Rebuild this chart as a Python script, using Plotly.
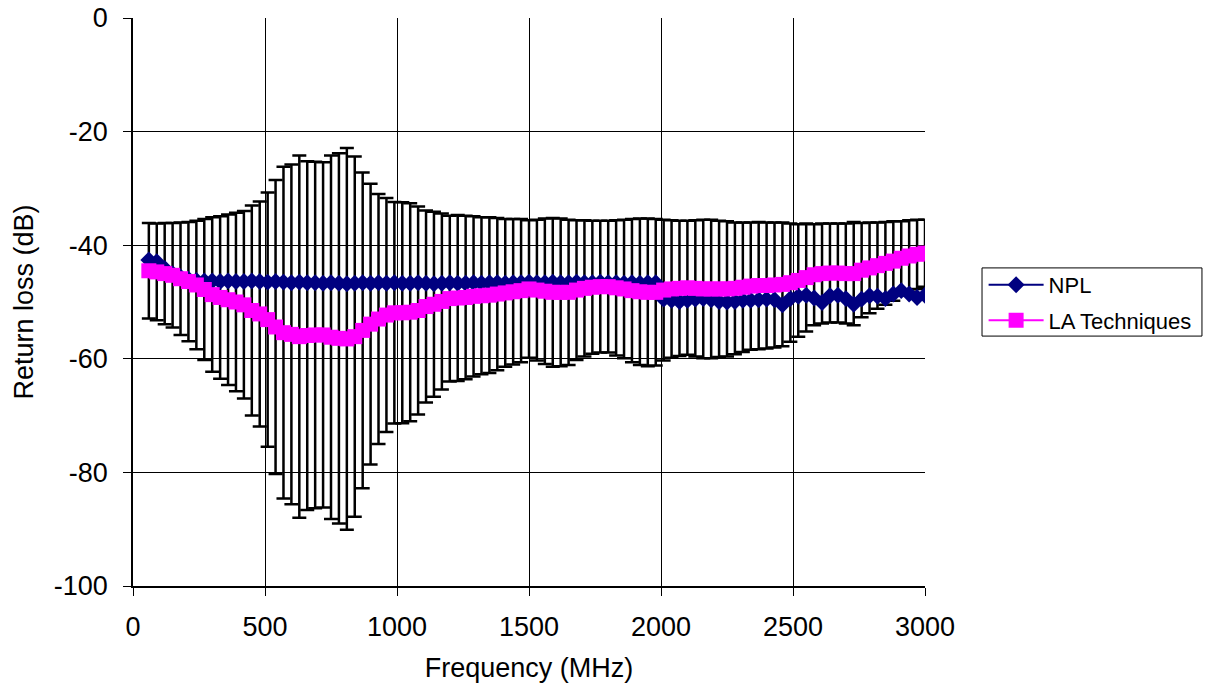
import plotly.graph_objects as go

# Measurement frequencies (MHz)
freq_mhz = [
    60, 90, 120, 150, 180, 210, 240, 270, 300, 330,
    360, 390, 420, 450, 480, 510, 540, 570, 600, 630,
    660, 690, 720, 750, 780, 810, 840, 870, 900, 930,
    960, 990, 1020, 1050, 1080, 1110, 1140, 1170, 1200, 1230,
    1260, 1290, 1320, 1350, 1380, 1410, 1440, 1470, 1500, 1530,
    1560, 1590, 1620, 1650, 1680, 1710, 1740, 1770, 1800, 1830,
    1860, 1890, 1920, 1950, 1980, 2010, 2040, 2070, 2100, 2130,
    2160, 2190, 2220, 2250, 2280, 2310, 2340, 2370, 2400, 2430,
    2460, 2490, 2520, 2550, 2580, 2610, 2640, 2670, 2700, 2730,
    2760, 2790, 2820, 2850, 2880, 2910, 2940, 2970, 3000,
]

# NPL return loss (dB)
npl_db = [
    -42.6, -42.9, -44.1, -45.0, -45.6, -46.0, -46.2, -46.3, -46.3, -46.4,
    -46.3, -46.4, -46.4, -46.3, -46.4, -46.5, -46.4, -46.5, -46.6, -46.5,
    -46.6, -46.6, -46.7, -46.6, -46.7, -46.8, -46.7, -46.6, -46.7, -46.6,
    -46.7, -46.6, -46.7, -46.7, -46.6, -46.7, -46.8, -46.7, -46.6, -46.7,
    -46.7, -46.6, -46.7, -46.6, -46.6, -46.7, -46.6, -46.6, -46.5, -46.6,
    -46.6, -46.5, -46.6, -46.6, -46.5, -46.6, -46.6, -46.5, -46.6, -46.6,
    -46.7, -46.6, -46.7, -46.6, -46.6, -49.5, -49.7, -49.9, -49.7, -49.5,
    -49.4, -49.6, -49.9, -50.0, -49.9, -49.7, -49.7, -49.6, -49.5, -49.6,
    -50.5, -49.4, -49.0, -48.8, -49.3, -50.1, -48.9, -48.8, -49.4, -50.4,
    -49.5, -48.9, -49.0, -49.4, -48.6, -48.0, -48.6, -49.2, -48.8,
]

# LA Techniques return loss (dB)
la_db = [
    -44.5, -44.7, -45.0, -45.3, -45.9, -46.4, -47.0, -47.8, -48.7, -49.2,
    -49.6, -50.0, -50.5, -51.5, -52.1, -53.1, -54.4, -55.4, -55.7, -56.1,
    -55.9, -55.8, -55.8, -56.2, -56.4, -56.5, -56.1, -55.0, -53.9, -53.0,
    -52.3, -51.9, -51.9, -51.8, -51.5, -50.8, -50.4, -49.9, -49.4, -49.3,
    -49.2, -49.0, -48.9, -48.8, -48.6, -48.4, -48.2, -48.0, -47.7, -47.9,
    -48.1, -48.3, -48.3, -48.3, -47.9, -47.6, -47.4, -47.3, -47.3, -47.5,
    -47.7, -48.0, -48.2, -48.3, -48.3, -47.9, -47.7, -47.6, -47.5, -47.6,
    -47.7, -47.7, -47.7, -47.7, -47.6, -47.4, -47.2, -47.1, -47.1, -47.0,
    -46.9, -46.6, -46.2, -45.7, -45.2, -45.0, -44.9, -44.9, -45.0, -45.0,
    -44.4, -44.0, -43.6, -43.2, -42.8, -42.3, -41.9, -41.6, -41.4,
]

# Uncertainty of the LA Techniques values (+/- dB)
la_unc_db = [
    8.4, 8.5, 8.9, 9.2, 9.9, 10.5, 11.3, 12.4, 13.6, 14.3,
    15.0, 15.7, 16.5, 18.5, 19.8, 22.4, 25.9, 29.2, 29.9, 31.9,
    30.7, 30.5, 30.4, 32.0, 32.6, 33.6, 31.7, 27.8, 24.7, 22.0,
    20.6, 19.5, 19.45, 19.2, 18.3, 16.9, 16.3, 15.5, 14.6, 14.6,
    14.4, 14.1, 13.8, 13.7, 13.4, 13.0, 12.8, 12.6, 12.1, 12.4,
    12.8, 13.1, 13.0, 12.8, 12.3, 12.0, 11.7, 11.6, 11.6, 11.9,
    12.2, 12.6, 12.9, 13.0, 12.9, 12.4, 12.1, 11.9, 11.8, 12.0,
    12.2, 12.2, 12.0, 11.9, 11.6, 11.4, 11.2, 11.2, 11.1, 11.0,
    10.9, 10.4, 9.9, 9.5, 8.9, 8.8, 8.7, 8.7, 8.8, 9.1,
    8.3, 8.0, 7.6, 7.3, 7.0, 6.5, 6.3, 6.1, 5.9,
]

x_tick_vals = [0, 500, 1000, 1500, 2000, 2500, 3000]
y_tick_vals = [0, -20, -40, -60, -80, -100]
y_tick_text = ["0", "-20", "-40", "-60", "-80", "-100"]

FONT = "Liberation Sans, Arial, sans-serif"

fig = go.Figure()

# Uncertainty bars, drawn first so both series sit on top of them
fig.add_trace(go.Scatter(
    x=freq_mhz, y=la_db, mode="markers",
    marker=dict(size=1, color="rgba(0,0,0,0)"),
    error_y=dict(type="data", array=la_unc_db, symmetric=True,
                 color="black", thickness=2.5, width=7),
    showlegend=False, hoverinfo="skip",
))

fig.add_trace(go.Scatter(
    x=freq_mhz, y=npl_db, mode="lines+markers", name="NPL",
    legendgroup="npl",
    line=dict(color="#000080", width=2),
    marker=dict(symbol="diamond", size=13, color="#000080"),
))

fig.add_trace(go.Scatter(
    x=freq_mhz, y=la_db, mode="lines+markers", name="LA Techniques",
    legendgroup="la",
    line=dict(color="#FF00FF", width=2),
    marker=dict(symbol="square", size=15, color="#FF00FF"),
))

# Legend frame
fig.add_shape(
    type="rect", xref="paper", yref="paper",
    x0=1.072, x1=1.3497, y0=0.440, y1=0.560,
    line=dict(color="black", width=1), fillcolor="rgba(0,0,0,0)",
    layer="above",
)

fig.update_layout(
    width=1209, height=692,
    margin=dict(l=133, r=284, t=18, b=106, pad=0),
    paper_bgcolor="white", plot_bgcolor="white",
    font=dict(family=FONT, color="black", size=27),
    legend=dict(
        x=1.074, y=0.567, xanchor="left", yanchor="top",
        borderwidth=0, bgcolor="rgba(0,0,0,0)",
        font=dict(family=FONT, size=22, color="black"),
        itemwidth=55, tracegroupgap=4,
    ),
    xaxis=dict(
        range=[0, 3000], tickvals=x_tick_vals, automargin=False,
        showgrid=True, gridcolor="black", gridwidth=1,
        showline=True, linecolor="black", linewidth=1.5,
        ticks="outside", ticklen=8, tickcolor="black", tickwidth=1,
        ticklabelstandoff=8, zeroline=False,
        title=dict(text="Frequency (MHz)", standoff=17,
                   font=dict(size=27)),
        tickfont=dict(size=27),
    ),
    yaxis=dict(
        range=[-100, 0], tickvals=y_tick_vals, ticktext=y_tick_text,
        automargin=False,
        showgrid=True, gridcolor="black", gridwidth=1,
        showline=True, linecolor="black", linewidth=1.5,
        ticks="outside", ticklen=8, tickcolor="black", tickwidth=1,
        ticklabelstandoff=10, zeroline=False,
        title=dict(text="Return loss (dB)", standoff=12,
                   font=dict(size=27)),
        tickfont=dict(size=27),
    ),
)

fig.write_html("out.html")
